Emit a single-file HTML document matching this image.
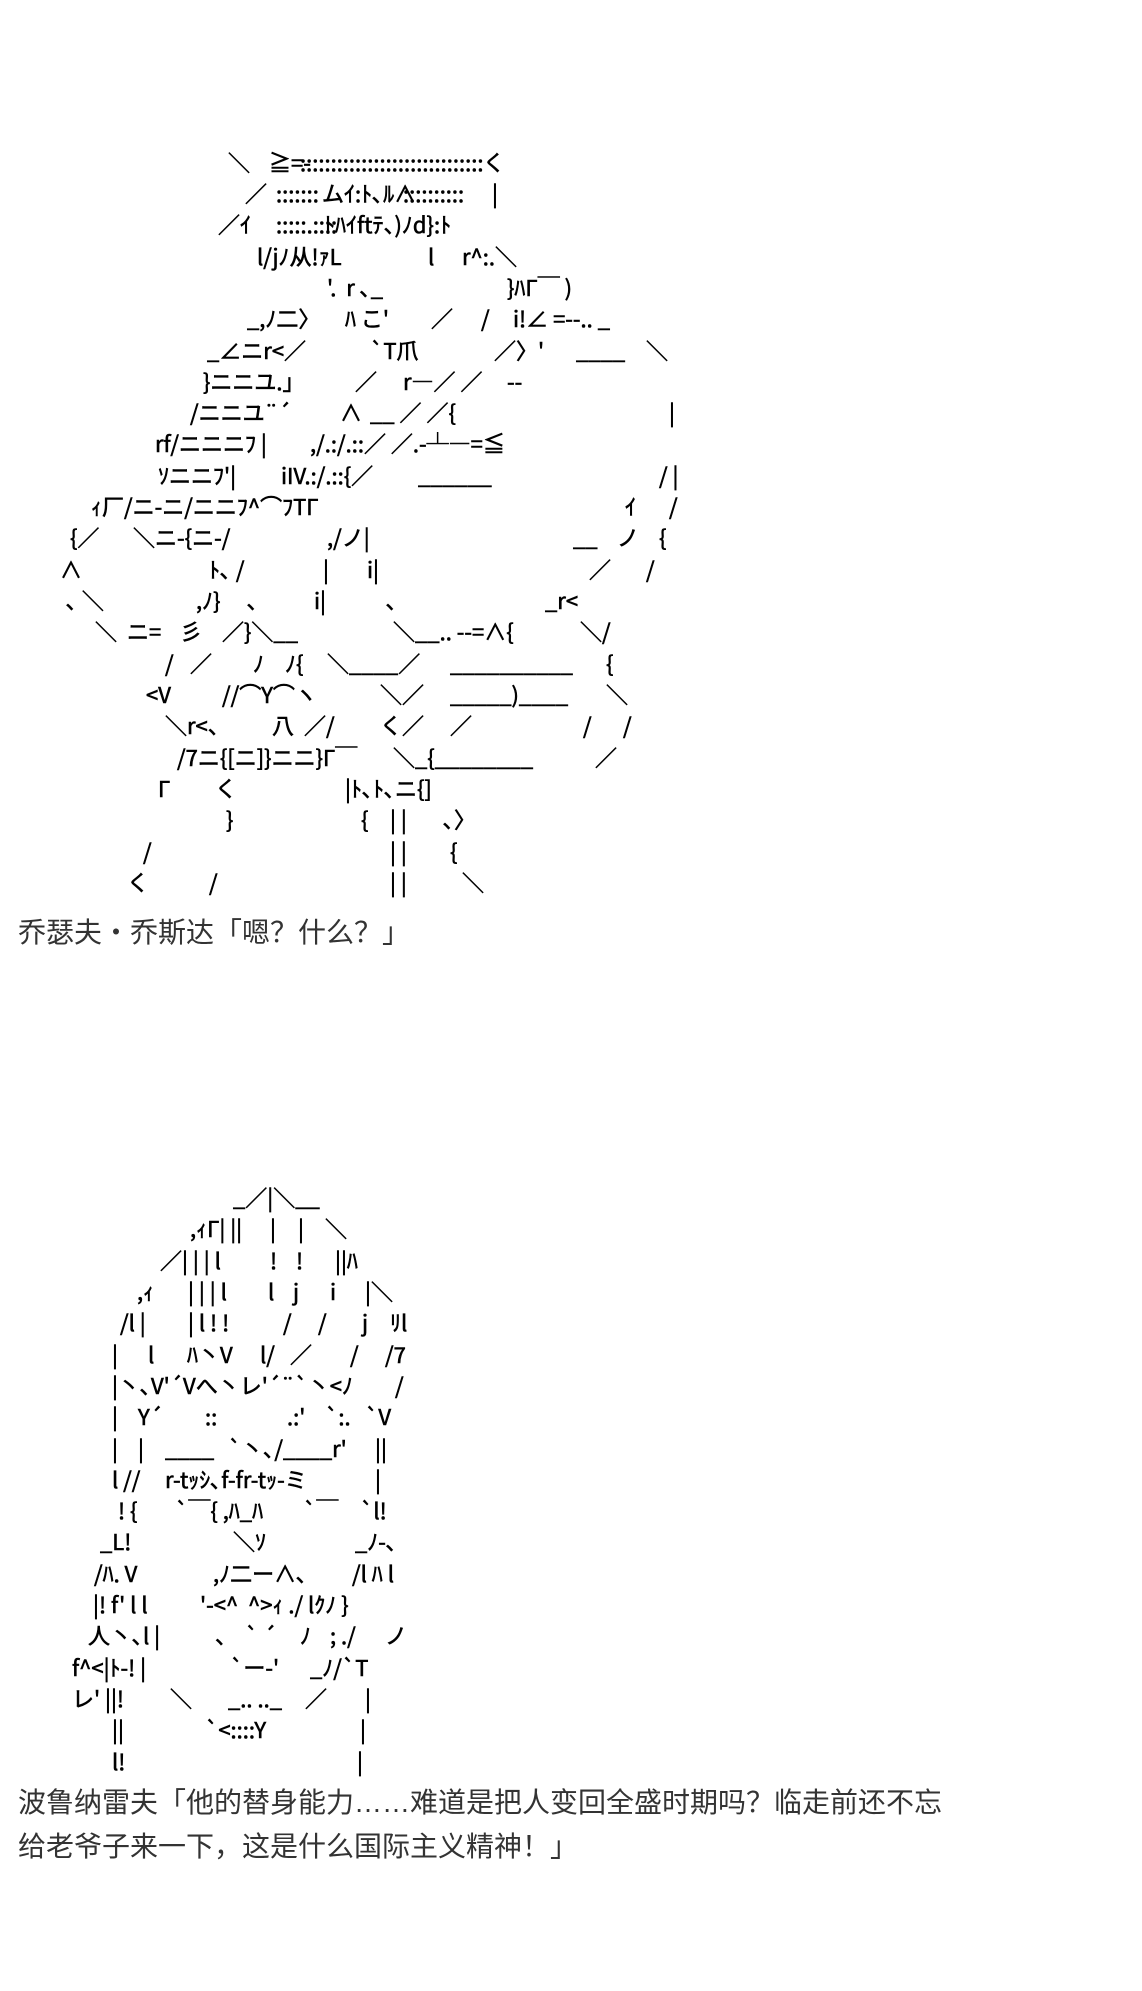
<!DOCTYPE html>
<html><head><meta charset="utf-8">
<style>
html,body{margin:0;padding:0;background:#fff;}
body{width:1142px;height:1991px;position:relative;overflow:hidden;}
.r{position:absolute;left:0;height:30px;line-height:30px;font-family:"Noto Sans CJK JP","Liberation Sans",sans-serif;font-size:22px;color:#000;-webkit-text-stroke:0.6px #000;}
.r span{position:absolute;top:0;white-space:pre;}
.cap{position:absolute;left:18px;font-family:"Liberation Sans","Noto Sans CJK SC",sans-serif;font-size:28px;color:#333;white-space:nowrap;line-height:44px;}
</style></head><body>
<div class="r" style="top:147px"><span style="left:228px">＼</span><span style="left:269px">≧=-</span><span style="left:300px">::::::::::::::::::::::::::::::</span><span style="left:483px">く</span></div>
<div class="r" style="top:178px"><span style="left:245px">／</span><span style="left:276px">:::::::</span><span style="left:322px">ムｲ:ﾄ､ﾙ∧</span><span style="left:403px">::::::::::</span><span style="left:492px">|</span></div>
<div class="r" style="top:209px"><span style="left:218px">／ｲ</span><span style="left:276px">:::::.::::</span><span style="left:324px">ﾄﾊｲftﾃ、)ﾉd}:ﾄ</span></div>
<div class="r" style="top:241px"><span style="left:257px">l/jﾉ从!ｧL</span><span style="left:428px">l</span><span style="left:462px">r^:.＼</span></div>
<div class="r" style="top:272px"><span style="left:327px">'.  r ､_</span><span style="left:507px">}ﾊΓ￣ )</span></div>
<div class="r" style="top:303px"><span style="left:247px">_,ﾉ⼆〉</span><span style="left:345px">ﾊ こ'</span><span style="left:431px">／</span><span style="left:481px">/</span><span style="left:513px">i!∠ =--.. _</span></div>
<div class="r" style="top:335px"><span style="left:207px">_∠ニr&lt;／</span><span style="left:370px">`T爪</span><span style="left:494px">／〉'</span><span style="left:576px">____</span><span style="left:646px">＼</span></div>
<div class="r" style="top:366px"><span style="left:203px">}ニニユ.」</span><span style="left:355px">／</span><span style="left:403px">r―／ ／</span><span style="left:507px">--</span></div>
<div class="r" style="top:397px"><span style="left:190px">/ニニユ¨´</span><span style="left:340px">∧</span><span style="left:370px">__ ／ ／{</span><span style="left:669px">|</span></div>
<div class="r" style="top:428px"><span style="left:155px">rf/ニニニﾌ |</span><span style="left:310px">,/.:/.::／ ／.-┴―=≦</span></div>
<div class="r" style="top:460px"><span style="left:158px">ｿニニﾌ'|</span><span style="left:281px">iIV.:/.::{／</span><span style="left:418px">______</span><span style="left:659px">/ |</span></div>
<div class="r" style="top:491px"><span style="left:91px">ｨ厂/ニ-ニ/ニニﾌ^⌒ﾌTΓ</span><span style="left:625px">ｲ</span><span style="left:669px">/</span></div>
<div class="r" style="top:522px"><span style="left:70px">{／</span><span style="left:133px">＼ニ-{ニ-/</span><span style="left:327px">,/ノ|</span><span style="left:573px">__</span><span style="left:617px">ノ</span><span style="left:659px">{</span></div>
<div class="r" style="top:554px"><span style="left:60px">∧</span><span style="left:209px">ﾄ､ /</span><span style="left:323px">|</span><span style="left:367px">i|</span><span style="left:589px">／</span><span style="left:646px">/</span></div>
<div class="r" style="top:585px"><span style="left:66px">､ ＼</span><span style="left:196px">,ﾉ}</span><span style="left:247px">､</span><span style="left:314px">i|</span><span style="left:386px">､</span><span style="left:545px">_r&lt;</span></div>
<div class="r" style="top:616px"><span style="left:95px">＼</span><span style="left:127px">ニ=</span><span style="left:180px">彡</span><span style="left:222px">／}＼__</span><span style="left:393px">＼__.. --=∧{</span><span style="left:580px">＼/</span></div>
<div class="r" style="top:648px"><span style="left:165px">/</span><span style="left:190px">／</span><span style="left:253px">ﾉ</span><span style="left:285px">ﾉ{</span><span style="left:327px">＼____／</span><span style="left:450px">__________</span><span style="left:606px">{</span></div>
<div class="r" style="top:679px"><span style="left:146px">&lt;V</span><span style="left:222px">//⌒Y⌒ヽ</span><span style="left:380px">＼／</span><span style="left:450px">_____)____</span><span style="left:606px">＼</span></div>
<div class="r" style="top:710px"><span style="left:165px">＼r&lt;、</span><span style="left:272px">八</span><span style="left:304px">／/</span><span style="left:380px">く／</span><span style="left:450px">／</span><span style="left:583px">/</span><span style="left:623px">/</span></div>
<div class="r" style="top:742px"><span style="left:177px">/7ニ{[ニ]}ニニ}Γ￣</span><span style="left:393px">＼_{________</span><span style="left:595px">／</span></div>
<div class="r" style="top:773px"><span style="left:158px">Γ</span><span style="left:215px">く</span><span style="left:345px">|ﾄ､ﾄ､ニ{]</span></div>
<div class="r" style="top:804px"><span style="left:226px">}</span><span style="left:361px">{</span><span style="left:390px">| |</span><span style="left:443px">､〉</span></div>
<div class="r" style="top:836px"><span style="left:143px">/</span><span style="left:390px">| |</span><span style="left:450px">{</span></div>
<div class="r" style="top:867px"><span style="left:127px">く</span><span style="left:209px">/</span><span style="left:390px">| |</span><span style="left:462px">＼</span></div>

<div class="cap" style="top:911px">乔瑟夫・乔斯达「嗯？什么？」</div>

<div class="r" style="top:1182px"><span style="left:233px">_／|＼__</span></div>
<div class="r" style="top:1213px"><span style="left:190px">,ｨΓ| ||</span><span style="left:270px">|</span><span style="left:298px">|</span><span style="left:325px">＼</span></div>
<div class="r" style="top:1245px"><span style="left:160px">／| | | l</span><span style="left:270px">!</span><span style="left:296px">!</span><span style="left:335px">||ﾊ</span></div>
<div class="r" style="top:1276px"><span style="left:137px">,ｨ</span><span style="left:188px">| | | l</span><span style="left:268px">l</span><span style="left:293px">j</span><span style="left:330px">i</span><span style="left:365px">|＼</span></div>
<div class="r" style="top:1307px"><span style="left:120px">/l |</span><span style="left:188px">| l ! !</span><span style="left:283px">/</span><span style="left:318px">/</span><span style="left:362px">j</span><span style="left:390px">ﾘl</span></div>
<div class="r" style="top:1339px"><span style="left:112px">|</span><span style="left:148px">l</span><span style="left:187px">ﾊ丶V</span><span style="left:260px">l/</span><span style="left:290px">／</span><span style="left:350px">/</span><span style="left:385px">/7</span></div>
<div class="r" style="top:1370px"><span style="left:112px">|丶､V'´Vへ丶レ'´¨`丶&lt;ﾉ</span><span style="left:395px">/</span></div>
<div class="r" style="top:1401px"><span style="left:112px">|</span><span style="left:138px">Y´</span><span style="left:205px">::</span><span style="left:287px">.:'</span><span style="left:325px">`:.</span><span style="left:365px">`V</span></div>
<div class="r" style="top:1433px"><span style="left:112px">|</span><span style="left:138px">|</span><span style="left:165px">____</span><span style="left:228px">`丶､/____r'</span><span style="left:375px">||</span></div>
<div class="r" style="top:1464px"><span style="left:112px">l //</span><span style="left:165px">r-tｯｼ､f-fr-tｯ-ミ</span><span style="left:375px">|</span></div>
<div class="r" style="top:1495px"><span style="left:118px">! {</span><span style="left:175px">`￣{ ,ﾊ_ﾊ</span><span style="left:303px">`￣</span><span style="left:360px">`l!</span></div>
<div class="r" style="top:1526px"><span style="left:100px">_L!</span><span style="left:233px">＼ｿ</span><span style="left:355px">_ﾉ-､</span></div>
<div class="r" style="top:1558px"><span style="left:94px">/ﾊ. V</span><span style="left:213px">,ﾉ⼆ー∧､</span><span style="left:352px">/l ﾊ l</span></div>
<div class="r" style="top:1589px"><span style="left:93px">|! f' l l</span><span style="left:200px">'-&lt;^  ^&gt;ｨ ./ lｸﾉ }</span></div>
<div class="r" style="top:1620px"><span style="left:88px">人丶､l |</span><span style="left:215px">、</span><span style="left:245px">` ´</span><span style="left:300px">ﾉ</span><span style="left:330px">; ./</span><span style="left:385px">ノ</span></div>
<div class="r" style="top:1652px"><span style="left:72px">f^&lt;|ﾄ-! |</span><span style="left:230px">`ー-'</span><span style="left:310px">_ﾉ/`T</span></div>
<div class="r" style="top:1683px"><span style="left:72px">レ' ||!</span><span style="left:170px">＼</span><span style="left:228px">_.. .._</span><span style="left:305px">／</span><span style="left:365px">|</span></div>
<div class="r" style="top:1714px"><span style="left:112px">||</span><span style="left:205px">`&lt;::::Y</span><span style="left:360px">|</span></div>
<div class="r" style="top:1746px"><span style="left:112px">l!</span><span style="left:357px">|</span></div>

<div class="cap" style="top:1781px">波鲁纳雷夫「他的替身能力……难道是把人变回全盛时期吗？临走前还不忘</div>
<div class="cap" style="top:1825px">给老爷子来一下，这是什么国际主义精神！」</div>
</body></html>
